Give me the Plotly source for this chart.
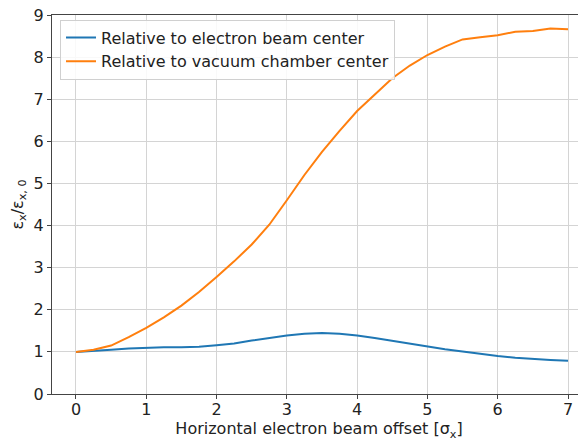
import plotly.graph_objects as go

x_vals = [0, 0.25, 0.5, 0.75, 1, 1.25, 1.5, 1.75, 2, 2.25, 2.5, 2.75, 3, 3.25, 3.5,
          3.75, 4, 4.25, 4.5, 4.75, 5, 5.25, 5.5, 5.75, 6, 6.25, 6.5, 6.75, 7]
beam_center = [1.0, 1.02, 1.05, 1.08, 1.1, 1.11, 1.11, 1.12, 1.16, 1.2, 1.27, 1.33, 1.39, 1.43, 1.45,
               1.43, 1.39, 1.33, 1.26, 1.19, 1.12, 1.06, 1.01, 0.95, 0.9, 0.86, 0.83, 0.81, 0.79]
chamber_center = [1.0, 1.05, 1.15, 1.35, 1.57, 1.82, 2.1, 2.42, 2.78, 3.15, 3.55, 4.02, 4.6, 5.2, 5.75,
                  6.25, 6.72, 7.12, 7.5, 7.8, 8.05, 8.25, 8.42, 8.47, 8.52, 8.6, 8.62, 8.68, 8.66]
series_names = ["Relative to electron beam center", "Relative to vacuum chamber center"]
x_ticks = [0, 1, 2, 3, 4, 5, 6, 7]
y_ticks = [0, 1, 2, 3, 4, 5, 6, 7, 8, 9]

fig = go.Figure()
fig.add_trace(go.Scatter(x=x_vals, y=beam_center, mode="lines", name=series_names[0],
                         line=dict(color="#1f77b4", width=2)))
fig.add_trace(go.Scatter(x=x_vals, y=chamber_center, mode="lines", name=series_names[1],
                         line=dict(color="#ff7f0e", width=2)))

fs = 16
fig.update_layout(
    width=578, height=433,
    margin=dict(l=44, r=0, t=7, b=47, autoexpand=False),
    paper_bgcolor="white", plot_bgcolor="white",
    font=dict(family="DejaVu Sans", size=fs, color="#222222"),
    showlegend=True,
    legend=dict(x=0.015, y=0.988, xanchor="left", yanchor="top",
                bgcolor="rgba(255,255,255,0.85)", bordercolor="#d0d0d0", borderwidth=1,
                font=dict(family="DejaVu Sans", size=fs, color="#222222"),
                tracegroupgap=0, itemwidth=30),
)
fig.update_xaxes(range=[-0.341, 7.256], tickvals=x_ticks, showgrid=True, gridcolor="#d4d4d4",
                 gridwidth=1.3, showline=True, linecolor="#444444", linewidth=1.2, mirror=True,
                 ticks="outside", ticklen=4, tickcolor="#444444", zeroline=False,
                 tickfont=dict(size=fs), ticklabeloverflow="allow", automargin=True,
                 ticklabelstandoff=-3,
                 title=dict(text="Horizontal electron beam offset [σ<sub>x</sub>]", font=dict(size=fs), standoff=3))
fig.update_yaxes(range=[0, 9], tickvals=y_ticks, showgrid=True, gridcolor="#d4d4d4",
                 gridwidth=1.3, showline=True, linecolor="#444444", linewidth=1.2, mirror=False,
                 ticks="outside", ticklen=4, tickcolor="#444444", zeroline=False,
                 tickfont=dict(size=fs), ticklabeloverflow="allow", automargin=True,
                 title=dict(text="ε<sub>x</sub>/ε<sub>x, 0</sub>", font=dict(size=fs), standoff=8))

fig.write_html("out.html")
